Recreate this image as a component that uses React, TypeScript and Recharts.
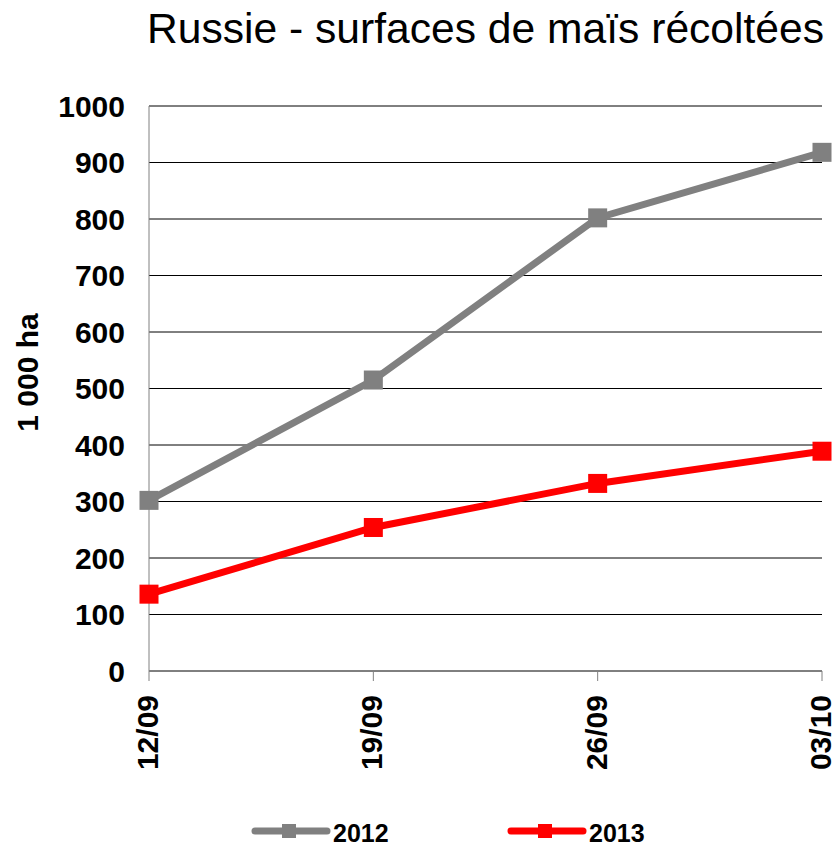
import { LineChart, Line, XAxis, YAxis, CartesianGrid, Legend, Label } from 'recharts';

const dates = ['12/09', '19/09', '26/09', '03/10'];
const surf2012 = [302, 515, 802, 918];
const surf2013 = [136, 254, 332, 389];
const yTicks = [0, 100, 200, 300, 400, 500, 600, 700, 800, 900, 1000];

const GRAY = '#808080';
const RED = '#FF0000';
const FONT = '"Liberation Sans", Arial, sans-serif';

const data = dates.map((d, i) => ({ date: d, y2012: surf2012[i], y2013: surf2013[i] }));

const squareDot = (color: string) => (props: any) => {
  const { cx, cy, index } = props;
  if (cx == null || cy == null) return null;
  return <rect key={index} x={cx - 9.5} y={cy - 9.5} width={19} height={19} fill={color} />;
};

const DateTick = (props: any) => {
  const { x, y, payload } = props;
  return (
    <text
      x={x}
      y={y}
      transform={`rotate(-90 ${x} ${y})`}
      textAnchor="end"
      dy="0.3em"
      fontFamily={FONT}
      fontWeight="bold"
      fontSize={30}
      fill="#000"
    >
      {payload.value}
    </text>
  );
};

const legendItems = [
  { name: '2012', color: GRAY, x: 255 },
  { name: '2013', color: RED, x: 511 },
];

const LegendBox = () => (
  <svg width={836} height={35} style={{ display: 'block' }}>
    {legendItems.map((it) => (
      <g key={it.name}>
        <line x1={it.x} y1={20} x2={it.x + 72} y2={20} stroke={it.color} strokeWidth={7} strokeLinecap="round" />
        <rect x={it.x + 27} y={13} width={14} height={14} fill={it.color} />
        <text x={it.x + 78} y={31} fontFamily={FONT} fontWeight="bold" fontSize={25} fill="#000">
          {it.name}
        </text>
      </g>
    ))}
  </svg>
);

export default function App() {
  return (
    <div style={{ position: 'absolute', left: 0, top: 0, width: 836, height: 846, background: '#fff' }}>
      <div
        style={{
          position: 'absolute',
          left: 147,
          top: 7,
          fontFamily: FONT,
          fontSize: 42.6,
          lineHeight: '42px',
          whiteSpace: 'nowrap',
          color: '#000',
        }}
      >
        Russie - surfaces de maïs récoltées
      </div>
      <LineChart width={836} height={846} data={data} margin={{ top: 106, right: 14, bottom: 0, left: 0 }}>
        <CartesianGrid horizontal vertical={false} stroke="#000" strokeWidth={1} />
        <XAxis
          dataKey="date"
          height={140}
          stroke={GRAY}
          tickSize={10}
          tickMargin={14}
          tick={<DateTick />}
          interval={0}
        />
        <YAxis
          width={149}
          domain={[0, 1000]}
          ticks={yTicks}
          interval={0}
          stroke={GRAY}
          tickLine={false}
          tickSize={0}
          tickMargin={24}
          tick={{ fontFamily: FONT, fontWeight: 'bold', fontSize: 30, fill: '#000' }}
        >
          <Label
            content={(p: any) => {
              const vb = p.viewBox || {};
              const cx = 27;
              const cy = (vb.y ?? 106) + (vb.height ?? 565) / 2 - 16;
              return (
                <text
                  x={cx}
                  y={cy}
                  transform={`rotate(-90 ${cx} ${cy})`}
                  textAnchor="middle"
                  dy="0.36em"
                  fontFamily={FONT}
                  fontWeight="bold"
                  fontSize={30}
                  fill="#000"
                >
                  1 000 ha
                </text>
              );
            }}
          />
        </YAxis>
        <Legend verticalAlign="bottom" height={35} content={<LegendBox />} />
        <Line
          dataKey="y2012"
          name="2012"
          stroke={GRAY}
          strokeWidth={7}
          dot={squareDot(GRAY)}
          activeDot={false}
          isAnimationActive={false}
        />
        <Line
          dataKey="y2013"
          name="2013"
          stroke={RED}
          strokeWidth={7}
          dot={squareDot(RED)}
          activeDot={false}
          isAnimationActive={false}
        />
      </LineChart>
    </div>
  );
}
